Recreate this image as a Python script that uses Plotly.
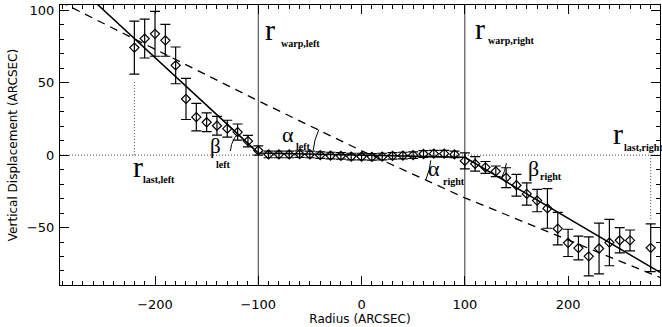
import numpy as np
import plotly.graph_objects as go

# ---------------- data ----------------
radius = [-220, -210, -200, -190, -180, -170, -160, -150, -140, -130, -120, -110, -100,
          -90, -80, -70, -60, -50, -40, -30, -20, -10, 0, 10, 20, 30, 40, 50, 60, 70, 80, 90,
          100, 110, 120, 130, 140, 150, 160, 170, 180, 190, 200, 210, 220, 230, 240, 250, 260, 280]
displacement = [74.3, 80.5, 83.8, 79.3, 62.0, 38.8, 26.2, 22.7, 20.3, 18.3, 15.9, 9.7, 3.2,
                0.5, 0.5, 0.5, 0.7, 0.5, 0.0, -0.3, -0.5, -1.0, -1.0, -1.2, -1.0, -0.5, -0.3, 0.0, 0.8, 1.0, 1.0, 0.5,
                -4.0, -6.0, -8.5, -11.2, -15.6, -20.8, -26.8, -31.4, -36.8, -50.8, -60.6, -64.2, -69.9, -64.5,
                -60.4, -58.8, -58.9, -64.0]
error = [18.3, 13.4, 15.5, 11.0, 12.7, 14.2, 9.5, 6.5, 6.5, 5.8, 5.6, 4.0, 3.2,
         2.3, 2.3, 2.3, 2.3, 2.3, 2.3, 2.3, 2.3, 2.3, 2.3, 2.3, 2.3, 2.3, 2.3, 2.3, 2.3, 2.3, 2.3, 2.3,
         5.5, 5.0, 4.1, 3.7, 6.9, 7.5, 7.7, 7.7, 13.7, 11.2, 9.4, 8.2, 13.5, 17.5, 16.0, 8.7, 7.2, 16.5]

# warped-disk model (solid) and straight-line model (dashed)
model_x = [-292, -100, 100, 289]
model_y = [128.0, 1.5, -1.5, -81.0]
line_x = [-292, -100, 0, 100, 289]
line_y = [106.0, 37.5, 3.0, -29.5, -84.5]

r_warp = [-100, 100]
r_last = [-220, 280]
r_last_extent = [52, -45]

x_ticks = [-200, -100, 0, 100, 200]
y_ticks = [-50, 0, 50, 100]

# ---------------- layout geometry ----------------
W, H = 662, 327
ML, MR, MT, MB = 60, 2, 5, 42
XR = [-292, 289]
YR = [-89.7, 103.7]
pw, ph = W - ML - MR, H - MT - MB
sx = pw / (XR[1] - XR[0])
sy = ph / (YR[1] - YR[0])


def px2x(px):
    return XR[0] + (px - ML) / sx


def px2y(py):
    return YR[1] - (py - MT) / sy


fig = go.Figure()

# horizontal dotted zero line
fig.add_trace(go.Scatter(x=XR, y=[0, 0], mode="lines",
                         line=dict(color="#444", width=1, dash="1px,2px"),
                         hoverinfo="skip", showlegend=False))
# vertical dotted at r_last
for xv, ye in zip(r_last, r_last_extent):
    fig.add_trace(go.Scatter(x=[xv, xv], y=[0, ye], mode="lines",
                             line=dict(color="#444", width=1, dash="1px,2px"),
                             hoverinfo="skip", showlegend=False))
# vertical warp lines
for xv in r_warp:
    fig.add_trace(go.Scatter(x=[xv, xv], y=YR, mode="lines",
                             line=dict(color="#333", width=1),
                             hoverinfo="skip", showlegend=False))
# dashed model
fig.add_trace(go.Scatter(x=line_x, y=line_y, mode="lines",
                         line=dict(color="black", width=1.3, dash="8px,6px"),
                         hoverinfo="skip", showlegend=False))
# solid model
fig.add_trace(go.Scatter(x=model_x, y=model_y, mode="lines",
                         line=dict(color="black", width=1.5),
                         hoverinfo="skip", showlegend=False))
# data
fig.add_trace(go.Scatter(x=radius, y=displacement, mode="markers",
                         marker=dict(symbol="diamond-open", size=7, color="black",
                                     line=dict(width=1.2, color="black")),
                         error_y=dict(type="data", array=error, visible=True,
                                      color="black", thickness=1.2, width=5),
                         showlegend=False))


# angle arcs (pixel radius, angles in degrees, screen y up)
def arc(vx, vy, rpx, a0, a1):
    t = np.radians(np.linspace(a0, a1, 30))
    return vx + rpx * np.cos(t) / sx, vy + rpx * np.sin(t) / sy


x0_dash = 9.2
for vx, vy, rpx, a0, a1 in [(-100, 1.5, 28, 176, 137),
                            (x0_dash, 0, 58, 175, 154),
                            (x0_dash, 0, 60, -5, -24.5),
                            (100, -1.5, 42, -8, -29)]:
    ax_, ay_ = arc(vx, vy, rpx, a0, a1)
    fig.add_trace(go.Scatter(x=ax_, y=ay_, mode="lines",
                             line=dict(color="black", width=1),
                             hoverinfo="skip", showlegend=False))

SERIF = "Liberation Serif"
ann = []


def label(main, sub, gx, gy, sxp, syp, msize=30, ssize=10):
    # main glyph left edge gx, centre gy; subscript left edge sxp, centre syp (pixels)
    ann.append(dict(x=px2x(gx - 2), y=px2y(gy - 0.12 * msize), text=main, showarrow=False,
                    xanchor="left", yanchor="middle",
                    font=dict(family=SERIF, size=msize, color="black")))
    ann.append(dict(x=px2x(sxp - 1), y=px2y(syp - 0.15 * ssize), text="<b>%s</b>" % sub, showarrow=False,
                    xanchor="left", yanchor="middle",
                    font=dict(family=SERIF, size=ssize, color="black")))


label("r", "warp,left", 265, 33, 280, 45)
label("r", "warp,right", 475, 32, 487, 42)
label("r", "last,left", 133, 170, 142, 181)
label("r", "last,right", 613, 137, 623, 149)
label("α", "left", 282, 137, 295, 147.5, msize=22)
label("β", "left", 210, 149, 215, 165.5, msize=21)
label("α", "right", 428, 171, 442, 182.5, msize=22)
label("β", "right", 528, 171, 539, 177.5, msize=22)

SANS = "DejaVu Sans"
axis_common = dict(showgrid=False, zeroline=False, showline=True, linecolor="black", linewidth=1,
                   mirror="ticks", ticks="inside", ticklen=9, tickwidth=1, tickcolor="black",
                   tickfont=dict(family=SANS, size=13, color="black"), automargin=False,
                   minor=dict(ticks="inside", ticklen=4, tickwidth=1, tickcolor="black", dtick=10))

fig.update_layout(
    width=W, height=H,
    margin=dict(l=ML, r=MR, t=MT, b=MB),
    paper_bgcolor="white", plot_bgcolor="white",
    annotations=ann,
    xaxis=dict(range=XR, tickvals=x_ticks, ticktext=["\u2212200", "\u2212100", "0", "100", "200"],
               title=dict(text="Radius (ARCSEC)", font=dict(family=SANS, size=12, color="black"), standoff=2),
               ticklabelstandoff=7, **axis_common),
    yaxis=dict(range=YR, tickvals=y_ticks, ticktext=["\u221250", "0", "50", "100"],
               title=dict(text="Vertical Displacement (ARCSEC)", font=dict(family=SANS, size=12, color="black"),
                          standoff=6),
               ticklabelstandoff=2, **axis_common),
)

fig.write_html("out.html", config={"displayModeBar": False},
               post_script="document.body.style.margin='0';document.body.style.overflow='hidden';")
